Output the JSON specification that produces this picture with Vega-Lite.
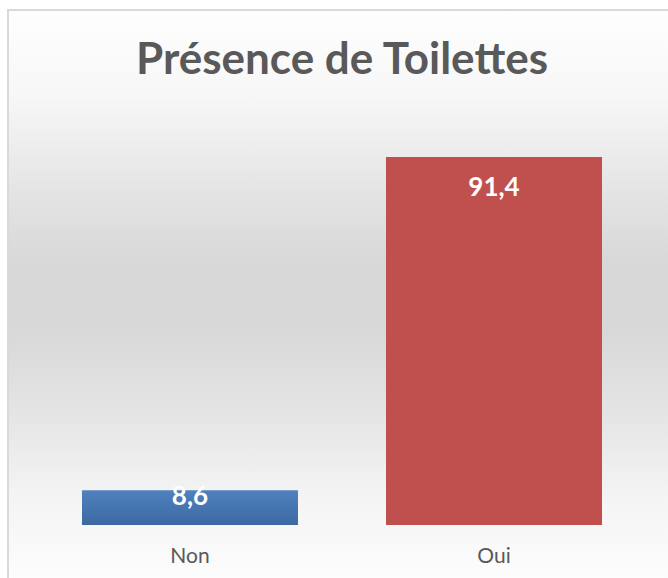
{
  "$schema": "https://vega.github.io/schema/vega-lite/v6.json",
  "autosize": "none",
  "padding": {"left": 8, "top": 10, "right": 0, "bottom": 0},
  "width": 664,
  "height": 572,
  "background": "#ffffff",
  "config": {
    "font": "Lato",
    "view": {
      "stroke": "#d9d9d9",
      "strokeWidth": 2,
      "fill": {
        "gradient": "linear",
        "x1": 0, "y1": 0, "x2": 0, "y2": 1,
        "stops": [
          {"offset": 0, "color": "#fefefe"},
          {"offset": 0.15, "color": "#f7f7f7"},
          {"offset": 0.3, "color": "#e6e6e6"},
          {"offset": 0.44, "color": "#d8d8d8"},
          {"offset": 0.56, "color": "#d8d8d8"},
          {"offset": 0.7, "color": "#e4e4e4"},
          {"offset": 0.85, "color": "#f4f4f4"},
          {"offset": 1, "color": "#fdfdfd"}
        ]
      }
    }
  },
  "title": {
    "text": "Présence de Toilettes",
    "anchor": "middle",
    "frame": "group",
    "font": "Lato",
    "fontSize": 44,
    "fontWeight": "bold",
    "color": "#595959",
    "baseline": "alphabetic",
    "offset": -65,
    "dy": 43,
    "dx": 2
  },
  "data": {
    "values": [
      {"categorie": "Non", "valeur": 8.6, "label": "8,6"},
      {"categorie": "Oui", "valeur": 91.4, "label": "91,4"}
    ]
  },
  "encoding": {
    "x": {
      "field": "categorie",
      "type": "nominal",
      "sort": ["Non", "Oui"],
      "scale": {"paddingInner": 0.2895, "paddingOuter": 0.2368, "align": 0.5139},
      "axis": {
        "title": null,
        "orient": "bottom",
        "offset": -57,
        "ticks": false,
        "domain": false,
        "labelAngle": 0,
        "labelFont": "Lato",
        "labelFontSize": 21,
        "labelColor": "#595959",
        "labelBaseline": "alphabetic",
        "labelPadding": 37
      }
    },
    "y": {
      "field": "valeur",
      "type": "quantitative",
      "scale": {"domain": [-14.16, 127.9], "nice": false, "zero": false},
      "axis": null
    }
  },
  "layer": [
    {
      "transform": [{"filter": "datum.categorie === 'Oui'"}],
      "mark": {"type": "bar", "color": "#C0504D"}
    },
    {
      "transform": [{"filter": "datum.categorie === 'Non'"}],
      "mark": {
        "type": "bar",
        "color": {
          "gradient": "linear",
          "x1": 0, "y1": 0, "x2": 0, "y2": 1,
          "stops": [
            {"offset": 0, "color": "#4F81BD"},
            {"offset": 1, "color": "#3C69A2"}
          ]
        }
      }
    },
    {
      "transform": [{"filter": "datum.categorie === 'Oui'"}],
      "mark": {"type": "text", "color": "#ffffff", "font": "Lato", "fontSize": 26, "fontWeight": "bold", "baseline": "alphabetic", "dy": 39},
      "encoding": {"text": {"field": "label"}}
    },
    {
      "transform": [{"filter": "datum.categorie === 'Non'"}],
      "mark": {"type": "text", "color": "#ffffff", "font": "Lato", "fontSize": 26, "fontWeight": "bold", "baseline": "alphabetic", "dy": 15},
      "encoding": {"text": {"field": "label"}}
    }
  ]
}
